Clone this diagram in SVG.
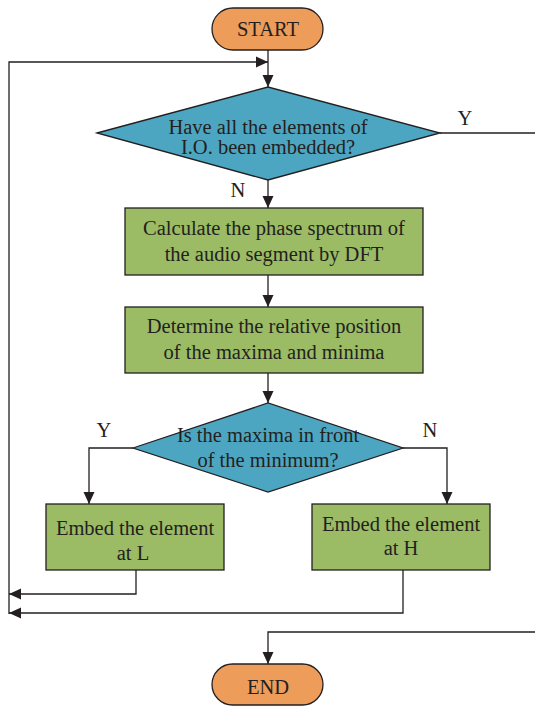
<svg xmlns="http://www.w3.org/2000/svg" width="535" height="706" viewBox="0 0 535 706">
<defs>
<marker id="ah" markerWidth="12" markerHeight="12" refX="12" refY="5.5" orient="auto" markerUnits="userSpaceOnUse" viewBox="0 0 12 11"><path d="M0,0 L12,5.5 L0,11 z" fill="#231f20"/></marker>
<style>
.t{font-family:"Liberation Serif","Times New Roman",serif;font-size:20.5px;fill:#231f20;text-anchor:middle}
.term{fill:#ED9C5A;stroke:#231f20;stroke-width:1.3}
.dec{fill:#4DA6C1;stroke:#231f20;stroke-width:1.3}
.proc{fill:#9BBB64;stroke:#231f20;stroke-width:1.3}
.c{fill:none;stroke:#231f20;stroke-width:1.3}
.a{marker-end:url(#ah)}
</style>
</defs>
<rect width="535" height="706" fill="#fff"/>
<g id="connectors">
<path class="c a" d="M268,50 V87"/>
<path class="c a" d="M9,614 V62 H268"/>
<path class="c" d="M440,133 H535"/>
<path class="c a" d="M268,180 V208"/>
<path class="c a" d="M268,275 V307"/>
<path class="c a" d="M268,373 V403"/>
<path class="c a" d="M133,448 H89 V504"/>
<path class="c a" d="M403,448 H447 V504"/>
<path class="c a" d="M136,570 V594 H9"/>
<path class="c a" d="M403,570 V613 H9"/>
<path class="c a" d="M535,632 H268 V664"/>
</g>
<g id="start"><rect class="term" x="212" y="8" width="111" height="42" rx="21"/><text class="t" x="268" y="36">START</text></g>
<g id="dec1"><polygon class="dec" points="97,133 268,87 440,133 268,180"/><text class="t" x="268" y="134">Have all the elements of</text><text class="t" x="268" y="154">I.O. been embedded?</text></g>
<g id="lblY1"><text class="t" x="465" y="125">Y</text></g>
<g id="lblN1"><text class="t" x="238" y="197">N</text></g>
<g id="proc1"><rect class="proc" x="125" y="208" width="298" height="67"/><text class="t" x="274" y="235">Calculate the phase spectrum of</text><text class="t" x="274" y="261">the audio segment by DFT</text></g>
<g id="proc2"><rect class="proc" x="125" y="307" width="298" height="66"/><text class="t" x="274" y="333">Determine the relative position</text><text class="t" x="274" y="359">of the maxima and minima</text></g>
<g id="dec2"><polygon class="dec" points="133,448 268,403 403,448 268,492"/><text class="t" x="268" y="442">Is the maxima in front</text><text class="t" x="268" y="467">of the minimum?</text></g>
<g id="lblY2"><text class="t" x="104" y="437">Y</text></g>
<g id="lblN2"><text class="t" x="430" y="437">N</text></g>
<g id="embedL"><rect class="proc" x="46" y="504" width="178" height="66"/><text class="t" x="135" y="535">Embed the element</text><text class="t" x="133" y="560">at L</text></g>
<g id="embedH"><rect class="proc" x="312" y="504" width="178" height="66"/><text class="t" x="401" y="531">Embed the element</text><text class="t" x="401" y="555">at H</text></g>
<g id="end"><rect class="term" x="212" y="664" width="111" height="41" rx="20.5"/><text class="t" x="268" y="694">END</text></g>
</svg>
